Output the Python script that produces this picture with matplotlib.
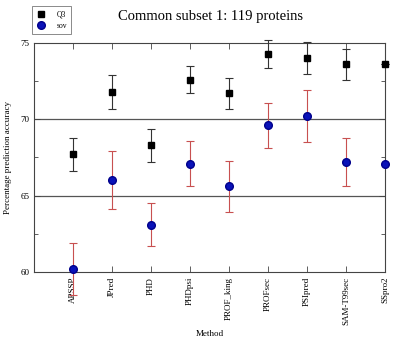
import matplotlib
matplotlib.use("Agg")
import matplotlib.pyplot as plt
from matplotlib.ticker import MultipleLocator

# data
methods = ["APSSP", "JPred", "PHD", "PHDpsi", "PROF_king", "PROFsec",
           "PSIpred", "SAM-T99sec", "SSpro2"]
q3 = [67.7, 71.8, 68.3, 72.6, 71.7, 74.3, 74.0, 73.6, 73.6]
q3_err = [1.1, 1.1, 1.1, 0.9, 1.0, 0.9, 1.05, 1.0, 0.0]
sov = [60.2, 66.0, 63.1, 67.1, 65.6, 69.6, 70.2, 67.2, 67.1]
sov_err = [1.7, 1.9, 1.4, 1.5, 1.7, 1.5, 1.7, 1.6, 0.0]

plt.rcParams["font.family"] = "Liberation Serif"

fig = plt.figure(figsize=(3.93, 3.45), dpi=100)
ax = fig.add_axes([0.087, 0.212, 0.893, 0.663])

xpos = list(range(1, len(methods) + 1))

ax.axhline(65, color="#555555", lw=0.9, zorder=1)
ax.axhline(70, color="#555555", lw=0.9, zorder=1)

ax.errorbar(xpos, q3, yerr=q3_err, fmt="s", color="black", ms=5,
            ecolor="#333333", elinewidth=0.8, capsize=3, capthick=0.8,
            zorder=3, clip_on=False)
ax.errorbar(xpos, sov, yerr=sov_err, fmt="o", color="#0a12b8", mec="#00008b",
            ms=5.5, ecolor="#c85050", elinewidth=0.8, capsize=3, capthick=0.8,
            zorder=3, clip_on=False)

# legend handles: markers only
ax.plot([], [], "s", color="black", ms=5, label="Q3")
ax.plot([], [], "o", color="#0a12b8", mec="#00008b", ms=5.5, label="sov")

ax.set_xlim(0, 9)
ax.set_ylim(60, 75)
ax.set_xticks(xpos)
ax.set_xticklabels(methods, rotation=90, fontsize=6.5)
ax.set_yticks([60, 65, 70, 75])
ax.yaxis.set_minor_locator(MultipleLocator(2.5))
ax.tick_params(axis="both", direction="in", top=True, right=True,
               labelsize=6.5, length=4, width=0.6, color="#444444")
ax.tick_params(axis="y", which="minor", direction="in", right=True,
               length=3, width=0.6, color="#444444")
for s in ax.spines.values():
    s.set_linewidth(0.8)
    s.set_color("#444444")

ax.set_xlabel("Method", fontsize=6.5, labelpad=4)
ax.set_ylabel("Percentage prediction accuracy", fontsize=6.5, labelpad=6)

fig.text(0.536, 0.952, "Common subset 1: 119 proteins", ha="center",
         va="center", fontsize=10.5)

leg = fig.legend(loc="upper left", bbox_to_anchor=(0.082, 0.982),
                 fontsize=5.5, frameon=True, fancybox=False, edgecolor="#555555",
                 handlelength=1.2, handletextpad=1.4, borderpad=0.55,
                 labelspacing=0.45, borderaxespad=0.0)
leg.get_frame().set_linewidth(0.6)

fig.savefig("out.png", dpi=100)
